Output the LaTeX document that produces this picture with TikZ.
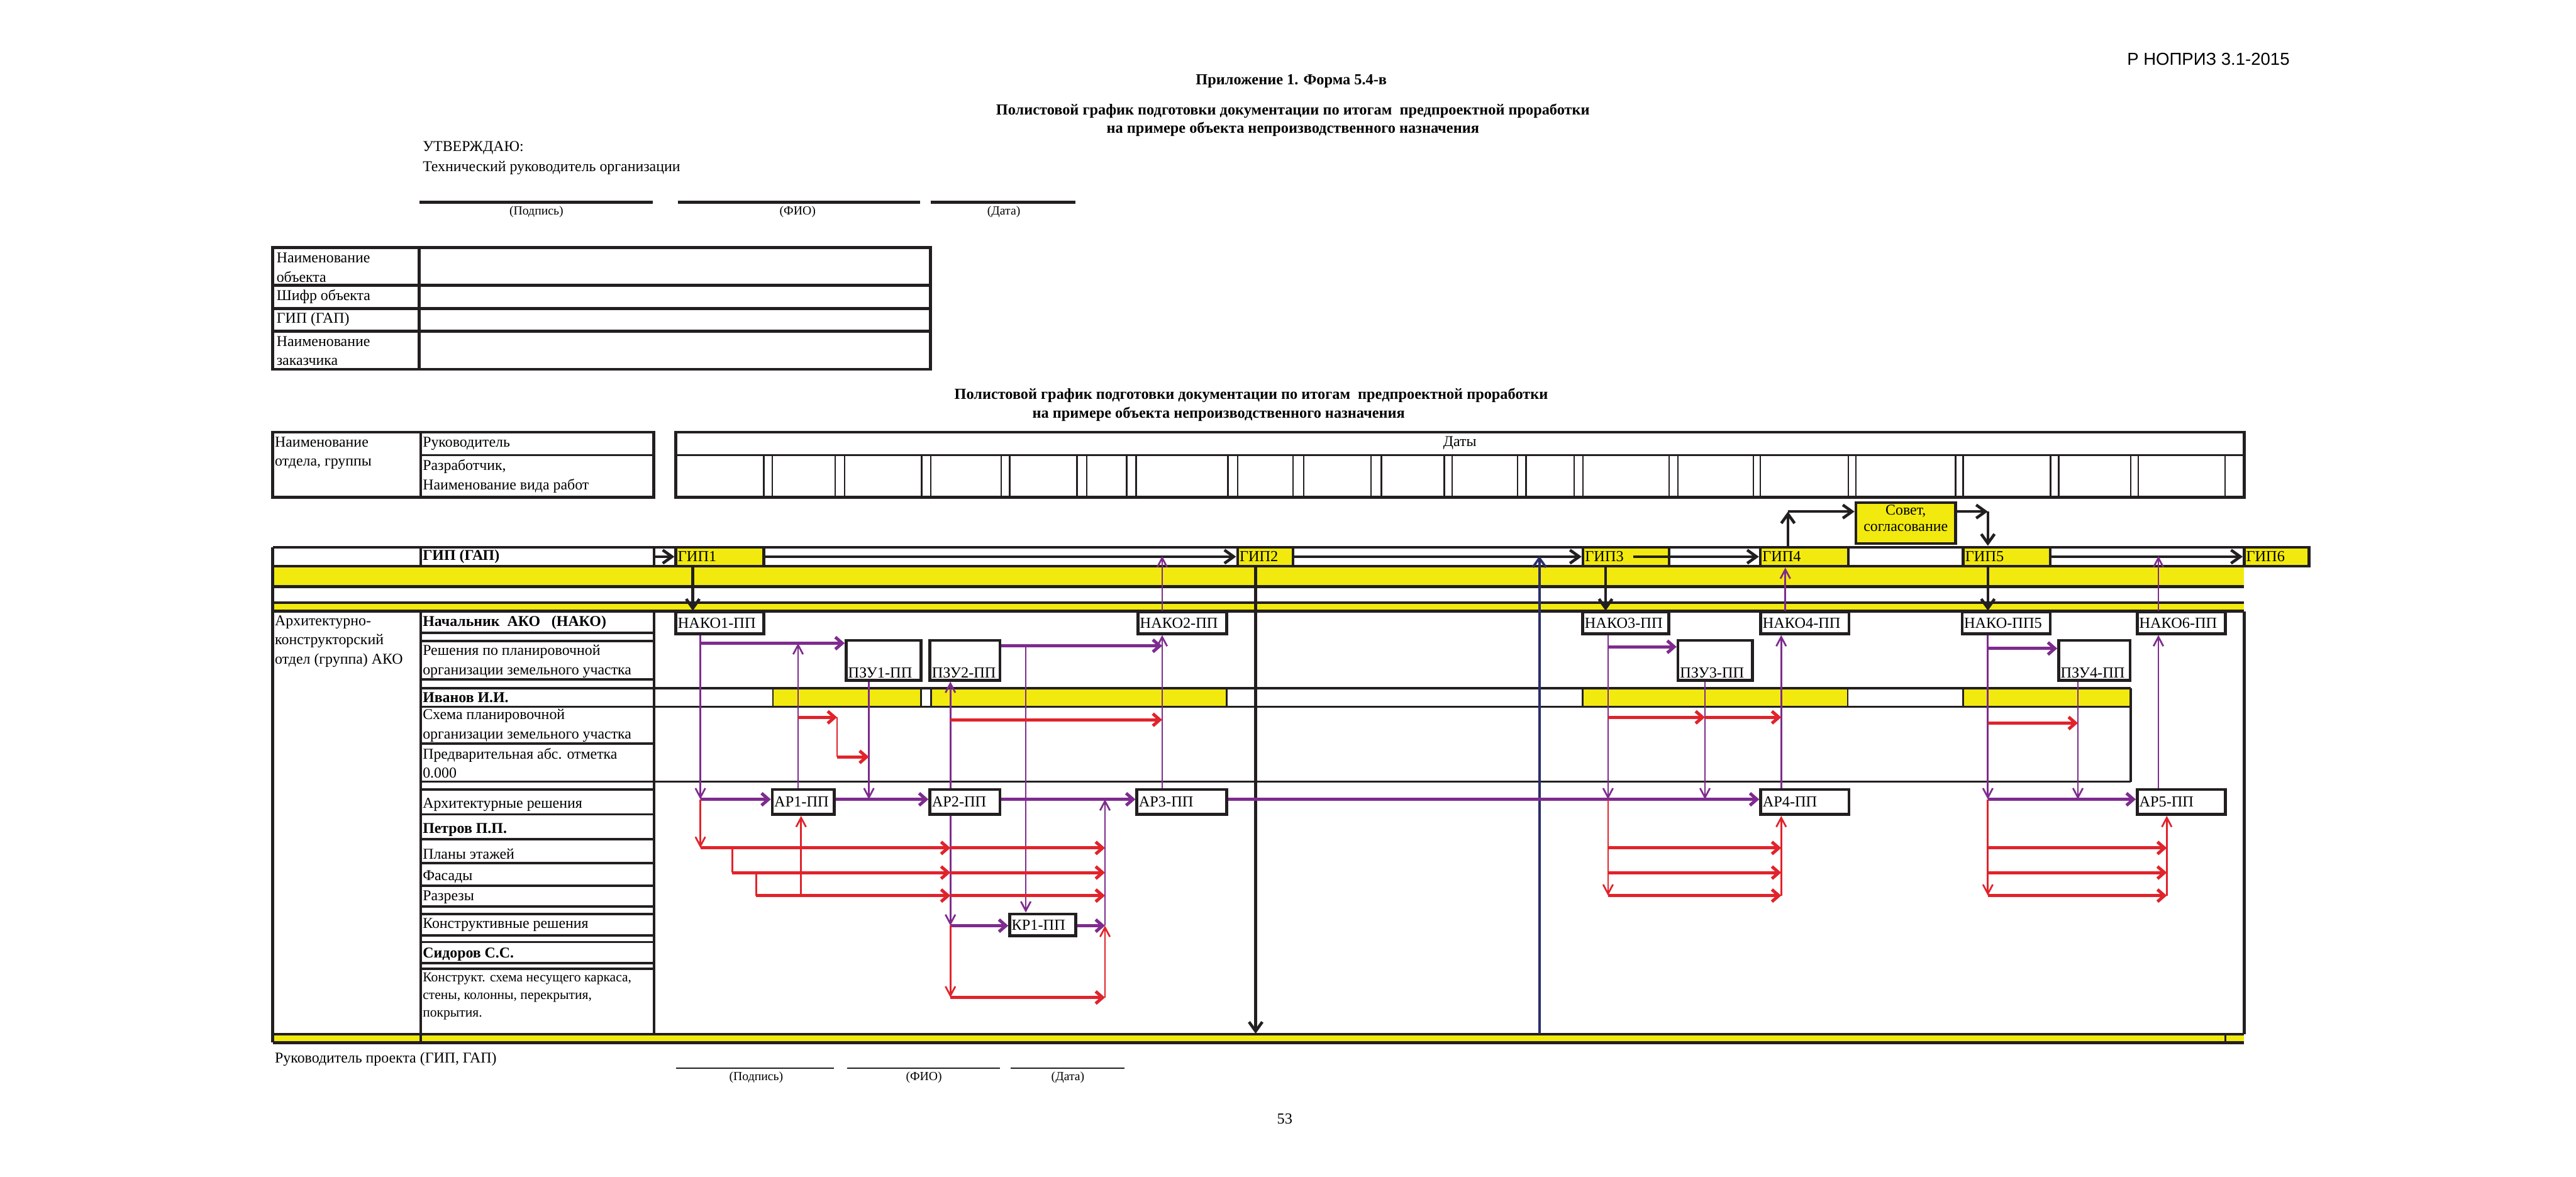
\documentclass[tikz,border=0pt]{standalone}
\usepackage{fontspec}
\setmainfont{Liberation Serif}
\newfontfamily\docsans{Liberation Sans}
\usetikzlibrary{arrows.meta,fit}

\definecolor{bandyellow}{HTML}{F2EA0E}
\definecolor{linkpurple}{HTML}{7E2B8E}
\definecolor{linkred}{HTML}{E1232B}
\definecolor{linknavy}{HTML}{2B2E6B}
\definecolor{inkblack}{HTML}{231F20}

\tikzset{
  txt/.style={inner sep=0pt, anchor=west, align=left, font=\fontsize{5.2}{6.6}\selectfont},
  txtb/.style={txt, font=\fontsize{5.2}{6.6}\selectfont\bfseries},
  ttl/.style={inner sep=0pt, font=\fontsize{5.3}{6.6}\selectfont\bfseries},
  sgn/.style={inner sep=0pt, font=\fontsize{4.3}{5}\selectfont},
  boxtxt/.style={inner sep=1pt, font=\fontsize{5.3}{6}\selectfont},
  hl/.style={line width=1pt, draw=inkblack},
  vl/.style={line width=0.8pt, draw=inkblack},
  tl/.style={line width=0.55pt, draw=inkblack},
  ppbox/.style={draw=inkblack, line width=1pt, inner sep=0pt},
  gipbox/.style={ppbox, fill=bandyellow},
  thintip/.style={-{Straight Barb[length=3.2pt, width=3.4pt]}},
  widetip/.style={-{Straight Barb[length=2.4pt, width=4.2pt]}},
  blacktip/.style={-{Straight Barb[length=3.2pt, width=4.6pt]}},
  parr/.style={linkpurple, line width=0.6pt, thintip},
  parrw/.style={linkpurple, line width=1.1pt, widetip},
  rarr/.style={linkred, line width=0.6pt, thintip},
  rarrw/.style={linkred, line width=1.1pt, widetip},
  rln/.style={linkred, line width=0.6pt},
  barr/.style={inkblack, line width=1pt, blacktip},
  narr/.style={linknavy, line width=0.8pt, blacktip},
}

\begin{document}
\begin{tikzpicture}[x=0.02cm, y=-0.02cm]
\useasboundingbox (0,0) rectangle (1568,716);

\node[inner sep=0pt, anchor=east, font=\docsans\fontsize{6}{7}\selectfont] (norm) at (1394,36) {Р НОПРИЗ 3.1-2015};
\node[ttl] (app) at (786,49.5) {Приложение 1. Форма 5.4-в};
\node[ttl] (title1) at (787,67.5) {Полистовой график подготовки документации по итогам~ предпроектной проработки};
\node[ttl] (title2) at (787,78.5) {на примере объекта непроизводственного назначения};
\node[txt] (approve) at (257,90) {УТВЕРЖДАЮ:};
\node[txt] (techhead) at (257,102) {Технический руководитель организации};
\draw[hl] (255.5,123) -- (397.5,123) (412.8,123) -- (560,123) (566.4,123) -- (654.5,123);
\node[sgn] (sign1) at (326.5,129) {(Подпись)};
\node[sgn] (name1) at (485.5,129) {(ФИО)};
\node[sgn] (date1) at (611,129) {(Дата)};

\draw[hl] (166,150.6) rectangle (566.4,224.7);
\draw[hl] (255.1,150.6) -- (255.1,224.7) (166,173.6) -- (566.4,173.6) (166,187.7) -- (566.4,187.7) (166,201.6) -- (566.4,201.6);
\node[txt] (objname) at (168,162.8) {Наименование\\объекта};
\node[txt] (objcode) at (168,180.5) {Шифр объекта};
\node[txt] (objgip) at (168,194.5) {ГИП (ГАП)};
\node[txt] (objclient) at (168,213.5) {Наименование\\заказчика};

\node[ttl] (title3) at (761.6,240.6) {Полистовой график подготовки документации по итогам~ предпроектной проработки};
\node[ttl] (title4) at (741.8,252) {на примере объекта непроизводственного назначения};

\draw[hl] (166,263) rectangle (398,302.5);
\draw[vl] (256,263) -- (256,302.5) (256,277) -- (398,277);
\node[txt] (hdept) at (167,275.8) {Наименование\\отдела, группы};
\node[txt] (hlead) at (257,270) {Руководитель};
\node[txt] (hdev) at (257,289.8) {Разработчик,\\Наименование вида работ};
\draw[hl] (411.4,263) rectangle (1366,302.7);
\draw[vl] (411.4,277) -- (1366,277);
\node[txt, anchor=center] (hdates) at (888.6,269.5) {Даты};
\foreach \cx in {465,470,508.3,514.2,561,566.5,609.5,614.6,655.6,661.5,685.7,691.6,747.5,753.3,787,793.6,834.6,840.9,879.2,883.9,923.7,928.8,958.1,963.6,1016,1021.4,1067.2,1071.5,1125,1129.7,1190.3,1195,1248.1,1253.2,1297,1301.6,1354.4}
  \draw[tl] (\cx,277) -- (\cx,302.7);

\fill[bandyellow] (166,344.5) rectangle (1366,357);
\fill[bandyellow] (166,366.8) rectangle (1366,372);
\fill[bandyellow] (166,629.4) rectangle (1366,634.5);
\foreach \ry in {333,344.5,357,366.8,372,629.4,634.5}
  \draw[hl] (166,\ry) -- (1366,\ry);
\draw[hl] (166,333) -- (166,634.5);
\draw[hl] (1366,372) -- (1366,629.4);
\draw[vl] (256,333) -- (256,344.5) (398,333) -- (398,344.5);
\draw[vl] (256,372) -- (256,634.5);
\draw[vl] (398,372) -- (398,629.4);
\draw[vl] (1354.5,629.4) -- (1354.5,634.5);

\foreach \xa/\xb in {470.5/560.6, 566.8/746.7, 963.4/1124.6, 1195/1296.6}
  \filldraw[fill=bandyellow, tl] (\xa,418.8) rectangle (\xb,430.1);
\foreach \ry in {385.2,390.1,413.5,452.6,480.5,495.6,510.6,525.3,539,551.7,556.2,569.3,573.2,586.1,589.4}
  \draw[vl] (256,\ry) -- (398,\ry);
\foreach \ry in {418.8,430.1,475.7}
  \draw[vl] (256,\ry) -- (1297,\ry);
\draw[vl] (1297,418.8) -- (1297,475.7);

\node[gipbox, fit={(411.4,333) (465,344.5)}, label={[boxtxt, anchor=west]west:ГИП1}] (gip1) {};
\node[gipbox, fit={(753.3,333) (787,344.5)}, label={[boxtxt, anchor=west]west:ГИП2}] (gip2) {};
\node[gipbox, fit={(963.6,333) (1016,344.5)}, label={[boxtxt, anchor=west]west:ГИП3}] (gip3) {};
\node[gipbox, fit={(1071.5,333) (1125,344.5)}, label={[boxtxt, anchor=west]west:ГИП4}] (gip4) {};
\node[gipbox, fit={(1195,333) (1248,344.5)}, label={[boxtxt, anchor=west]west:ГИП5}] (gip5) {};
\node[gipbox, fit={(1366,333) (1405.5,344.5)}, label={[boxtxt, anchor=west]west:ГИП6}] (gip6) {};
\node[gipbox, fit={(1129.7,305.9) (1190.3,330.7)}, align=center, font=\fontsize{5.2}{5.7}\selectfont] (sovet) {Совет,\\согласование};

\node[ppbox, fit={(411.4,372.5) (465,385.6)}, label={[boxtxt, anchor=west]west:НАКО1-ПП}] (nako1) {};
\node[ppbox, fit={(692.7,372.5) (746.7,385.6)}, label={[boxtxt, anchor=west]west:НАКО2-ПП}] (nako2) {};
\node[ppbox, fit={(963.4,372.5) (1015.8,385.6)}, label={[boxtxt, anchor=west]west:НАКО3-ПП}] (nako3) {};
\node[ppbox, fit={(1071.7,372.5) (1125.5,385.6)}, label={[boxtxt, anchor=west]west:НАКО4-ПП}] (nako4) {};
\node[ppbox, fit={(1194.3,372.5) (1248,385.6)}, label={[boxtxt, anchor=west]west:НАКО-ПП5}] (nako5) {};
\node[ppbox, fit={(1300.9,372.5) (1354.6,385.6)}, label={[boxtxt, anchor=west]west:НАКО6-ПП}] (nako6) {};
\node[ppbox, fit={(515,389.7) (560.6,413.9)}, label={[boxtxt, anchor=south west]south west:ПЗУ1-ПП}] (pzu1) {};
\node[ppbox, fit={(566,389.7) (608.7,413.9)}, label={[boxtxt, anchor=south west]south west:ПЗУ2-ПП}] (pzu2) {};
\node[ppbox, fit={(1021.4,389.7) (1066.6,413.9)}, label={[boxtxt, anchor=south west]south west:ПЗУ3-ПП}] (pzu3) {};
\node[ppbox, fit={(1253.1,389.7) (1296.6,413.9)}, label={[boxtxt, anchor=south west]south west:ПЗУ4-ПП}] (pzu4) {};
\node[ppbox, fit={(470.1,480.5) (507.7,495.6)}, label={[boxtxt, anchor=west]west:АР1-ПП}] (ar1) {};
\node[ppbox, fit={(566,480.5) (608.7,495.6)}, label={[boxtxt, anchor=west]west:АР2-ПП}] (ar2) {};
\node[ppbox, fit={(692,480.5) (746.7,495.6)}, label={[boxtxt, anchor=west]west:АР3-ПП}] (ar3) {};
\node[ppbox, fit={(1071.7,480.5) (1125.5,495.6)}, label={[boxtxt, anchor=west]west:АР4-ПП}] (ar4) {};
\node[ppbox, fit={(1300.9,480.5) (1354.6,495.6)}, label={[boxtxt, anchor=west]west:АР5-ПП}] (ar5) {};
\node[ppbox, fit={(614.6,556.2) (654.7,569.5)}, label={[boxtxt, anchor=west]west:КР1-ПП}] (kr1) {};

\foreach \cn/\cx in {xstart/398, xg1/421.7, xn1/426.3, xr1/445.7, xr2/460.3, xa1/485.8, xa1r/487.6, xr3/509.5, xz1/528.9, xa2/578.5, xz2/624.4, xk1/672.6, xa3/707.4, xg2/764.3, xnv/937, xg3/977.3, xn3/978.8, xg3out/994, xz3/1037.8, xa4/1084.2, xn4/1086.7, xc4/1088.3, xc5/1210, xz4/1264.8, xa5/1313.8, xa5r/1318.9}
  \coordinate (\cn) at (\cx,0);
\foreach \rn/\ry in {ysov/311.3, ygip/338.4, yz1/391.4, yz2/393, yz3/393.6, yz4/394.6, ysa/436.5, ysb/438, ysc/440, ypre/460.6, yar/486.4, ypl/516, yfa/531, yra/545, ykr/563.3, ykon/607, ybot/629}
  \coordinate (\rn) at (0,\ry);

\draw[barr] (xstart |- gip1.west) -- (gip1.west);
\draw[barr] (gip1.east) -- (gip2.west);
\draw[barr] (gip2.east) -- (gip3.west);
\draw[barr] (xg3out |- gip3.east) -- (gip4.west);
\draw[barr] (gip5.east) -- (gip6.west);
\draw[barr] (xc4 |- gip4.north) -- (xc4 |- ysov);
\draw[barr] (xc4 |- ysov) -- (sovet.west |- ysov);
\draw[barr] (sovet.east |- ysov) -- (xc5 |- ysov);
\draw[barr] (xc5 |- ysov) -- (xc5 |- gip5.north);
\draw[barr] (xg1 |- gip1.south) -- (xg1 |- nako1.north);
\draw[barr] (xg3 |- gip3.south) -- (xg3 |- nako3.north);
\draw[barr] (xc5 |- gip5.south) -- (xc5 |- nako5.north);
\draw[barr] (xg2 |- gip2.south) -- (xg2 |- ybot);
\draw[narr] (xnv |- ybot) -- (xnv |- ygip);
\draw[parr] (xa3 |- nako2.north) -- (xa3 |- ygip);
\draw[parr] (xn4 |- nako4.north) -- (xn4 |- gip4.south);
\draw[parr] (xa5 |- nako6.north) -- (xa5 |- ygip);

\draw[parr] (xn1 |- nako1.south) -- (xn1 |- yar);
\draw[parrw] (xn1 |- yz1) -- (pzu1.west |- yz1);
\draw[parr] (xa1 |- ar1.north) -- (xa1 |- yz1);
\draw[parr] (xz1 |- pzu1.south) -- (xz1 |- yar);
\draw[parrw] (xn1 |- yar) -- (ar1.west |- yar);
\draw[parrw] (ar1.east |- yar) -- (ar2.west |- yar);
\draw[parr] (xa2 |- ar2.north) -- (xa2 |- pzu2.south);
\draw[parrw] (pzu2.east |- yz2) -- (xa3 |- yz2);
\draw[parr] (xa3 |- ar3.north) -- (xa3 |- nako2.south);
\draw[parr] (xz2 |- yz2) -- (xz2 |- kr1.north);
\draw[parrw] (ar2.east |- yar) -- (ar3.west |- yar);
\draw[parr] (xa2 |- ar2.south) -- (xa2 |- ykr);
\draw[parrw] (xa2 |- ykr) -- (kr1.west |- ykr);
\draw[parrw] (kr1.east |- ykr) -- (xk1 |- ykr);
\draw[parr] (xk1 |- ykr) -- (xk1 |- yar);

\draw[rarrw] (xa1 |- ysa) -- (xr3 |- ysa);
\draw[rln] (xr3 |- ysa) -- (xr3 |- ypre);
\draw[rarrw] (xr3 |- ypre) -- (xz1 |- ypre);
\draw[rarrw] (xa2 |- ysb) -- (xa3 |- ysb);
\draw[rarr] (xn1 |- yar) -- (xn1 |- ypl);
\draw[rarrw] (xn1 |- ypl) -- (xa2 |- ypl);
\draw[rln] (xr1 |- ypl) -- (xr1 |- yfa);
\draw[rarrw] (xr1 |- yfa) -- (xa2 |- yfa);
\draw[rln] (xr2 |- yfa) -- (xr2 |- yra);
\draw[rarrw] (xr2 |- yra) -- (xa2 |- yra);
\foreach \yy in {ypl,yfa,yra}
  \draw[rarrw] (xa2 |- \yy) -- (xk1 |- \yy);
\draw[rarr] (xa1r |- yra) -- (xa1r |- ar1.south);
\draw[rarr] (xa2 |- ykr) -- (xa2 |- ykon);
\draw[rarrw] (xa2 |- ykon) -- (xk1 |- ykon);
\draw[rarr] (xk1 |- ykon) -- (xk1 |- ykr);

\draw[parr] (xn3 |- nako3.south) -- (xn3 |- yar);
\draw[parrw] (xn3 |- yz3) -- (pzu3.west |- yz3);
\draw[parr] (xz3 |- pzu3.south) -- (xz3 |- yar);
\draw[parrw] (ar3.east |- yar) -- (ar4.west |- yar);
\draw[parr] (xa4 |- ar4.north) -- (xa4 |- nako4.south);
\draw[parr] (xc5 |- nako5.south) -- (xc5 |- yar);
\draw[parrw] (xc5 |- yz4) -- (pzu4.west |- yz4);
\draw[parr] (xz4 |- pzu4.south) -- (xz4 |- yar);
\draw[parrw] (xc5 |- yar) -- (ar5.west |- yar);
\draw[parr] (xa5 |- ar5.north) -- (xa5 |- nako6.south);

\draw[rarrw] (xn3 |- ysa) -- (xz3 |- ysa);
\draw[rarrw] (xz3 |- ysa) -- (xa4 |- ysa);
\draw[rarrw] (xc5 |- ysc) -- (xz4 |- ysc);
\draw[rarr] (xn3 |- yar) -- (xn3 |- yra);
\draw[rarr] (xc5 |- yar) -- (xc5 |- yra);
\foreach \yy in {ypl,yfa,yra} {
  \draw[rarrw] (xn3 |- \yy) -- (xa4 |- \yy);
  \draw[rarrw] (xc5 |- \yy) -- (xa5r |- \yy);
}
\draw[rarr] (xa4 |- yra) -- (xa4 |- ar4.south);
\draw[rarr] (xa5r |- yra) -- (xa5r |- ar5.south);

\node[txtb] (lgip) at (257,338.7) {ГИП (ГАП)};
\node[txt] (ldept) at (167,390.3) {Архитектурно-\\конструкторский\\отдел (группа) АКО};
\node[txtb] (lnako) at (257,378.7) {Начальник~ АКО~~ (НАКО)};
\node[txt] (lpzu) at (257,402.5) {Решения по планировочной\\организации земельного участка};
\node[txtb] (livanov) at (257,424.6) {Иванов И.И.};
\node[txt] (lschema) at (257,441.5) {Схема планировочной\\организации земельного участка};
\node[txt] (lmark) at (257,464.5) {Предварительная абс. отметка\\0.000};
\node[txt] (lar) at (257,489.7) {Архитектурные решения};
\node[txtb] (lpetrov) at (257,505) {Петров П.П.};
\node[txt] (lplan) at (257,519.6) {Планы этажей};
\node[txt] (lfacade) at (257,533.7) {Фасады};
\node[txt] (lsection) at (257,546) {Разрезы};
\node[txt] (lkr) at (257,563) {Конструктивные решения};
\node[txtb] (lsidorov) at (257,580.6) {Сидоров С.С.};
\node[txt, font=\fontsize{4.7}{6.1}\selectfont] (lframe) at (257,606.3) {Конструкт. схема несущего каркаса,\\стены, колонны, перекрытия,\\покрытия.};

\node[txt] (chief) at (167,644.7) {Руководитель проекта (ГИП, ГАП)};
\draw[tl] (411.7,650) -- (507.7,650) (515.7,650) -- (608.7,650) (615.3,650) -- (684.6,650);
\node[sgn] (sign2) at (460.3,655.5) {(Подпись)};
\node[sgn] (name2) at (562.4,655.5) {(ФИО)};
\node[sgn] (date2) at (650,655.5) {(Дата)};
\node[inner sep=0pt, font=\fontsize{5.3}{6}\selectfont] (pageno) at (782,681) {53};
\end{tikzpicture}
\end{document}
